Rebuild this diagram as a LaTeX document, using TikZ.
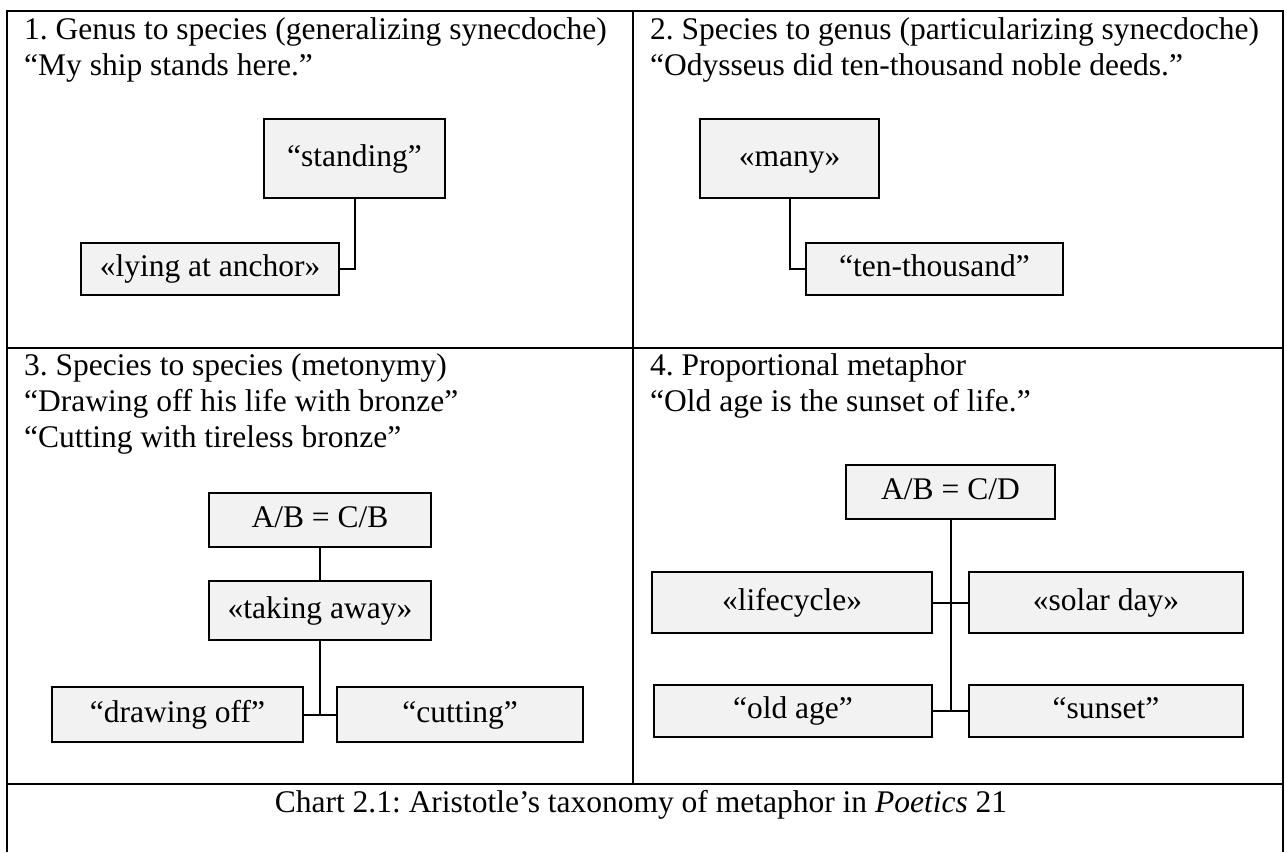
\documentclass[tikz,border=0pt]{standalone}
\usepackage{fontspec}
\setmainfont{Liberation Serif}
\usepackage{xcolor}
\usepackage{tikz}
\frenchspacing
\definecolor{boxgray}{HTML}{F2F2F2}
\tikzset{
  termbox/.style={
    draw,
    line width=1.8pt,
    fill=boxgray,
    inner sep=0pt,
    text height=22pt,
    text depth=7pt,
    align=center
  },
  celltext/.style={
    anchor=north west,
    inner sep=0pt,
    align=left
  },
  link/.style={draw, line width=2pt},
  gridline/.style={draw, line width=2.4pt}
}

\begin{document}
\begin{tikzpicture}[x=1pt,y=-1pt,font=\fontsize{31.5}{36}\selectfont]
  \useasboundingbox (0,0) rectangle (1287,852);

  % table frame
  \path[gridline] (7,852) -- (7,11) -- (1283,11) -- (1283,852);
  \path[gridline] (7,348) -- (1283,348)
                  (7,784) -- (1283,784)
                  (633,11) -- (633,784);

  % cell headings
  \node[celltext] (genustxt) at (24,13.8)
    {\strut 1. Genus to species (generalizing synecdoche)\\“My ship stands here.”};
  \node[celltext] (speciestxt) at (650,13.8)
    {\strut 2. Species to genus (particularizing synecdoche)\\“Odysseus did ten-thousand noble deeds.”};
  \node[celltext] (metontxt) at (24,349.8)
    {\strut 3. Species to species (metonymy)\\“Drawing off his life with bronze”\\“Cutting with tireless bronze”};
  \node[celltext] (proptxt) at (650,349.8)
    {\strut 4. Proportional metaphor\\“Old age is the sunset of life.”};
  \node[anchor=base, inner sep=0pt] (caption) at (641,812)
    {Chart 2.1: Aristotle’s taxonomy of metaphor in \textit{Poetics} 21};

  % 1
  \node[termbox, minimum width=181pt, minimum height=79pt] (standing) at (354.5,158.5) {“standing”};
  \node[termbox, minimum width=258pt, minimum height=52pt] (lying) at (210,269) {«lying at anchor»};
  % 2
  \node[termbox, minimum width=179pt, minimum height=79pt] (many) at (789.5,158.5) {«many»};
  \node[termbox, minimum width=257pt, minimum height=52pt] (tenk) at (934.5,269) {“ten-thousand”};
  % 3
  \node[termbox, minimum width=222pt, minimum height=54pt] (abcb) at (320,520) {A/B = C/B};
  \node[termbox, minimum width=222pt, minimum height=59pt] (taking) at (320,610.5) {«taking away»};
  \node[termbox, minimum width=251pt, minimum height=55pt] (drawoff) at (177.5,714.5) {“drawing off”};
  \node[termbox, minimum width=246pt, minimum height=55pt] (cutting) at (460,714.5) {“cutting”};
  % 4
  \node[termbox, minimum width=209pt, minimum height=54pt] (abcd) at (950.5,492) {A/B = C/D};
  \node[termbox, minimum width=280pt, minimum height=61pt] (lifecycle) at (792,602.5) {«lifecycle»};
  \node[termbox, minimum width=274pt, minimum height=61pt] (solarday) at (1106,602.5) {«solar day»};
  \node[termbox, minimum width=278pt, minimum height=52pt] (oldage) at (793,711) {“old age”};
  \node[termbox, minimum width=274pt, minimum height=52pt] (sunset) at (1106,711) {“sunset”};

  \coordinate (fork3) at (taking.south |- drawoff.east);
  \coordinate (fork4) at (abcd.south |- oldage.east);

  \path[link] (standing) |- (lying)
              (many) |- (tenk)
              (abcb) -- (taking)
              (taking) -- (fork3)
              (drawoff) -- (cutting)
              (abcd) -- (fork4)
              (lifecycle) -- (solarday)
              (oldage) -- (sunset);
\end{tikzpicture}
\end{document}
